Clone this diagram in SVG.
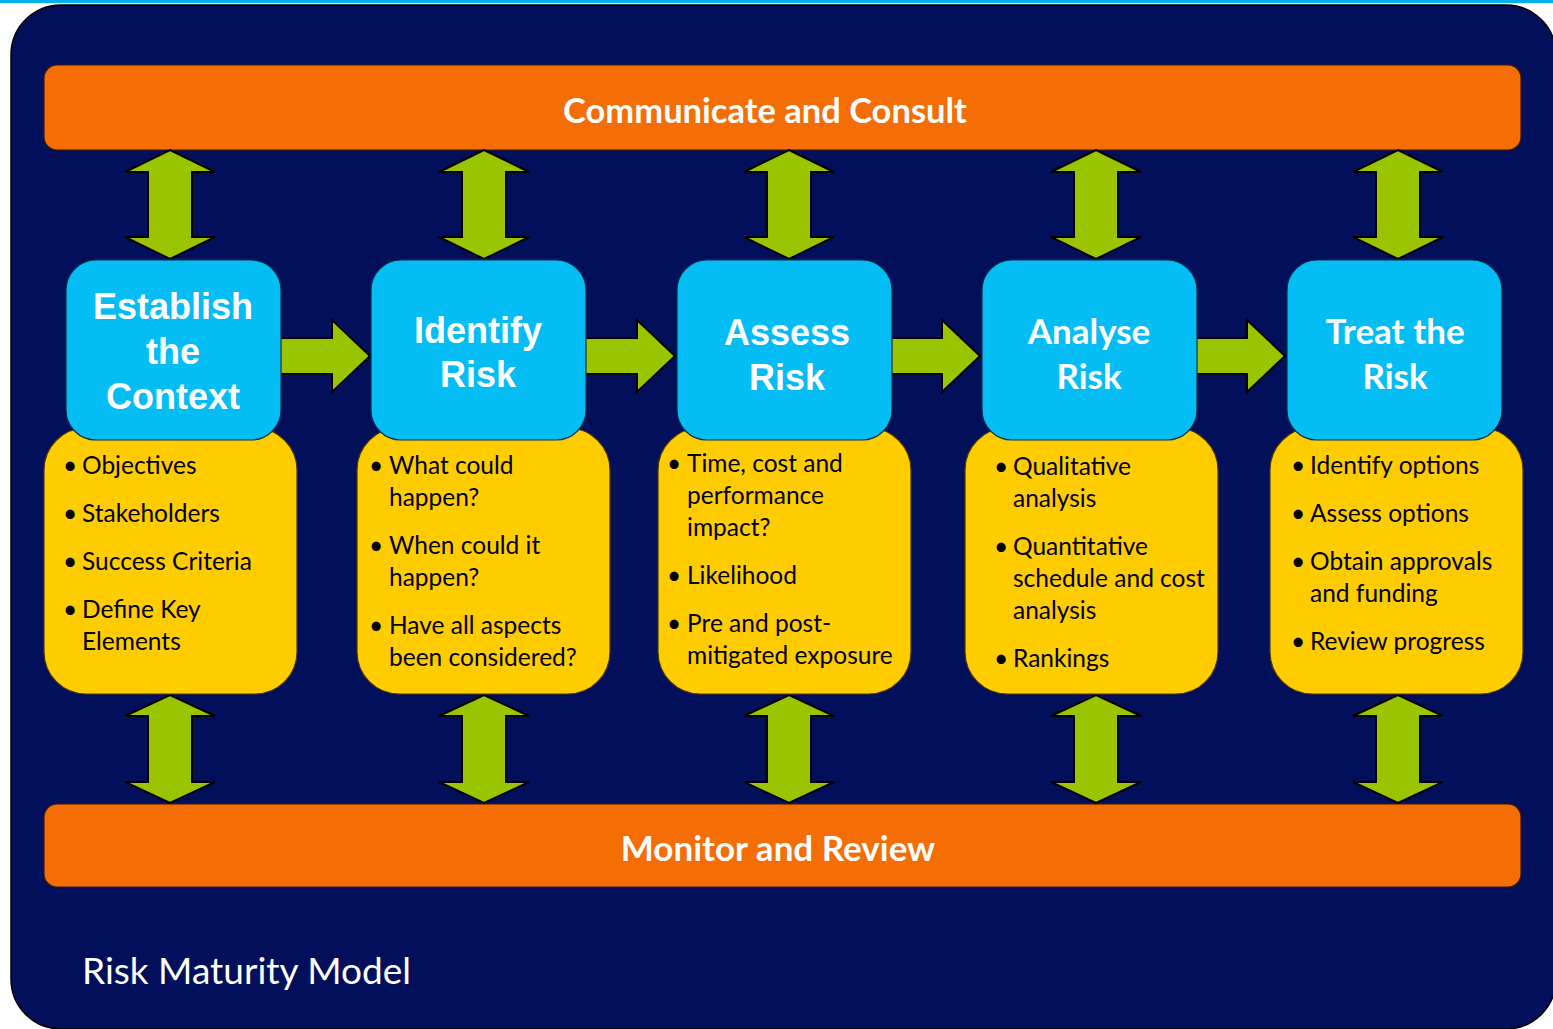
<svg xmlns="http://www.w3.org/2000/svg" width="1553" height="1029" viewBox="0 0 1553 1029">
<style>
.bar{fill:#F56D05;stroke:#3a1a00;stroke-width:1.2}
.blue{fill:#05BDF5;stroke:#06304a;stroke-width:1.2}
.yel{fill:#FFCC00;stroke:#4a3a00;stroke-width:1.2}
.arr{fill:#9AC400;stroke:#000;stroke-width:2;stroke-linejoin:miter}
.bt{font-family:Lato,"Open Sans",sans-serif;font-weight:700;fill:#fff;text-anchor:middle}
.at{font-family:"Liberation Sans",Arial,sans-serif;font-weight:700;font-size:36px;fill:#fff;text-anchor:middle}
.ct{font-family:Lato,"Open Sans",sans-serif;font-weight:700;font-size:35px;fill:#fff;text-anchor:middle}
.li{font-family:Lato,"Open Sans",sans-serif;font-size:24.5px;fill:#000}
</style>
<rect x="0" y="0" width="1553" height="3" fill="#00B0F0"/>
<rect x="11" y="5" width="1545" height="1024" rx="50" fill="#02105C" stroke="#000" stroke-width="1.5"/>
<g id="communicate">
<rect class="bar" x="44" y="65" width="1477" height="85" rx="13"/>
<text class="bt" x="765" y="123" font-size="34.5">Communicate and Consult</text>
</g>
<g id="monitor">
<rect class="bar" x="44" y="804" width="1477" height="83" rx="13"/>
<text class="bt" x="778" y="861" font-size="35">Monitor and Review</text>
</g>
<g id="connectors">
<path class="arr" d="M170,150 L215,172 L192,172 L192,237 L215,237 L170,259 L125,237 L148,237 L148,172 L125,172 Z"/>
<path class="arr" d="M484,150 L529,172 L506,172 L506,237 L529,237 L484,259 L439,237 L462,237 L462,172 L439,172 Z"/>
<path class="arr" d="M789,150 L834,172 L811,172 L811,237 L834,237 L789,259 L744,237 L767,237 L767,172 L744,172 Z"/>
<path class="arr" d="M1096,150 L1141,172 L1118,172 L1118,237 L1141,237 L1096,259 L1051,237 L1074,237 L1074,172 L1051,172 Z"/>
<path class="arr" d="M1398,150 L1443,172 L1420,172 L1420,237 L1443,237 L1398,259 L1353,237 L1376,237 L1376,172 L1353,172 Z"/>
<path class="arr" d="M170,695 L215,716 L192,716 L192,782 L215,782 L170,803 L125,782 L148,782 L148,716 L125,716 Z"/>
<path class="arr" d="M484,695 L529,716 L506,716 L506,782 L529,782 L484,803 L439,782 L462,782 L462,716 L439,716 Z"/>
<path class="arr" d="M789,695 L834,716 L811,716 L811,782 L834,782 L789,803 L744,782 L767,782 L767,716 L744,716 Z"/>
<path class="arr" d="M1096,695 L1141,716 L1118,716 L1118,782 L1141,782 L1096,803 L1051,782 L1074,782 L1074,716 L1051,716 Z"/>
<path class="arr" d="M1398,695 L1443,716 L1420,716 L1420,782 L1443,782 L1398,803 L1353,782 L1376,782 L1376,716 L1353,716 Z"/>
<path class="arr" d="M278,338 L332,338 L332,320 L370,356 L332,392 L332,374 L278,374 Z"/>
<path class="arr" d="M583,338 L637,338 L637,320 L675,356 L637,392 L637,374 L583,374 Z"/>
<path class="arr" d="M888,338 L942,338 L942,320 L980,356 L942,392 L942,374 L888,374 Z"/>
<path class="arr" d="M1193,338 L1247,338 L1247,320 L1285,356 L1247,392 L1247,374 L1193,374 Z"/>
</g>
<g id="establish">
<rect class="yel" x="44" y="428" width="253" height="266" rx="42"/>
<rect class="blue" x="66" y="260" width="215" height="180" rx="30"/>
<text class="at" x="173" y="319">Establish</text>
<text class="at" x="173" y="364">the</text>
<text class="at" x="173" y="409">Context</text>
<g class="li">
<text x="63" y="474">•</text><text x="82" y="474">Objectives</text>
<text x="63" y="522">•</text><text x="82" y="522">Stakeholders</text>
<text x="63" y="570">•</text><text x="82" y="570">Success Criteria</text>
<text x="63" y="618">•</text><text x="82" y="618">Define Key</text>
<text x="82" y="650">Elements</text>
</g>
</g>
<g id="identify">
<rect class="yel" x="357" y="428" width="253" height="266" rx="42"/>
<rect class="blue" x="371" y="260" width="215" height="180" rx="30"/>
<text class="at" x="478" y="343">Identify</text>
<text class="at" x="478" y="387">Risk</text>
<g class="li">
<text x="369" y="474">•</text><text x="389" y="474">What could</text>
<text x="389" y="506">happen?</text>
<text x="369" y="554">•</text><text x="389" y="554">When could it</text>
<text x="389" y="586">happen?</text>
<text x="369" y="634">•</text><text x="389" y="634">Have all aspects</text>
<text x="389" y="666">been considered?</text>
</g>
</g>
<g id="assess">
<rect class="yel" x="658" y="428" width="253" height="266" rx="42"/>
<rect class="blue" x="677" y="260" width="215" height="180" rx="30"/>
<text class="at" x="787" y="345">Assess</text>
<text class="at" x="787" y="390">Risk</text>
<g class="li">
<text x="667" y="472">•</text><text x="687" y="472">Time, cost and</text>
<text x="687" y="504">performance</text>
<text x="687" y="536">impact?</text>
<text x="667" y="584">•</text><text x="687" y="584">Likelihood</text>
<text x="667" y="632">•</text><text x="687" y="632">Pre and post-</text>
<text x="687" y="664">mitigated exposure</text>
</g>
</g>
<g id="analyse">
<rect class="yel" x="965" y="428" width="253" height="266" rx="42"/>
<rect class="blue" x="982" y="260" width="215" height="180" rx="30"/>
<text class="ct" x="1089" y="344">Analyse</text>
<text class="ct" x="1089" y="389">Risk</text>
<g class="li">
<text x="994" y="475">•</text><text x="1013" y="475">Qualitative</text>
<text x="1013" y="507">analysis</text>
<text x="994" y="555">•</text><text x="1013" y="555">Quantitative</text>
<text x="1013" y="587">schedule and cost</text>
<text x="1013" y="619">analysis</text>
<text x="994" y="667">•</text><text x="1013" y="667">Rankings</text>
</g>
</g>
<g id="treat">
<rect class="yel" x="1270" y="428" width="253" height="266" rx="42"/>
<rect class="blue" x="1287" y="260" width="215" height="180" rx="30"/>
<text class="ct" x="1395" y="344">Treat the</text>
<text class="ct" x="1395" y="389">Risk</text>
<g class="li">
<text x="1291" y="474">•</text><text x="1310" y="474">Identify options</text>
<text x="1291" y="522">•</text><text x="1310" y="522">Assess options</text>
<text x="1291" y="570">•</text><text x="1310" y="570">Obtain approvals</text>
<text x="1310" y="602">and funding</text>
<text x="1291" y="650">•</text><text x="1310" y="650">Review progress</text>
</g>
</g>
<text x="82" y="984" font-family="Lato,'Open Sans',sans-serif" font-size="37" fill="#fff">Risk Maturity Model</text>
</svg>
